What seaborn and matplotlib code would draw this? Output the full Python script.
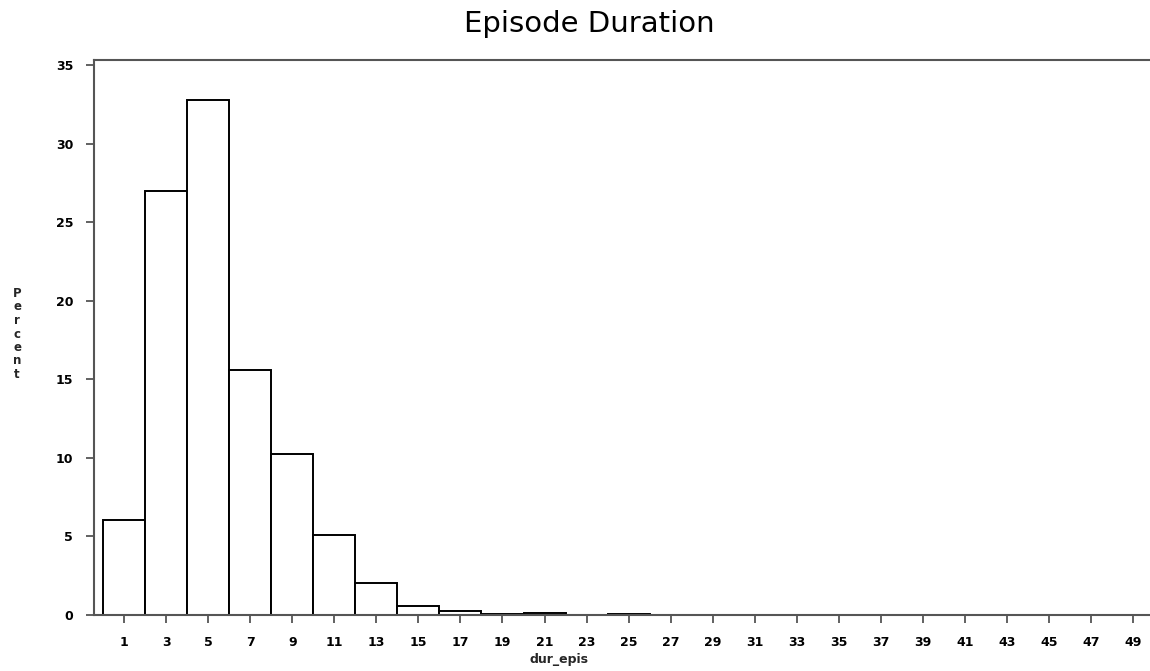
import matplotlib
matplotlib.use("Agg")
import matplotlib.pyplot as plt
import seaborn as sns
import numpy as np

# Data
midpoints = list(range(1, 50, 2))
percent = [6.02, 26.97, 32.77, 15.61, 10.26, 5.06, 2.03, 0.54, 0.26, 0.08,
           0.13, 0.0, 0.05, 0.0, 0.0, 0.0, 0.0, 0.0, 0.0, 0.0,
           0.0, 0.0, 0.0, 0.0, 0.0]
y_ticks = [0, 5, 10, 15, 20, 25, 30, 35]
title = "Episode Duration"
x_label = "dur_epis"
y_label = "Percent"

sns.set_theme(style="white")
plt.rcParams['font.family'] = ['DejaVu Sans']

fig = plt.figure(figsize=(11.5, 6.71), dpi=100)
ax = fig.add_axes([94 / 1150, (671 - 614.8) / 671, 1 - 94 / 1150, (614.8 - 60) / 671])

sns.histplot(x=midpoints, weights=percent, binwidth=2, binrange=(0, 50),
             stat="count", color="white", edgecolor="black", linewidth=1.4,
             alpha=1, ax=ax)

ax.set_xlim(-0.43, 49.8)
ax.set_ylim(0, 35.34)
ax.set_xticks(midpoints)
ax.set_xticklabels([str(m) for m in midpoints])
ax.set_yticks(y_ticks)
ax.set_yticklabels([str(t) for t in y_ticks])

for side in ["left", "top", "bottom"]:
    ax.spines[side].set_visible(True)
    ax.spines[side].set_color("#555555")
    ax.spines[side].set_linewidth(1.5)
ax.spines["right"].set_visible(False)

ax.tick_params(axis="both", which="major", direction="out", length=6,
               width=1.3, color="#555555", labelsize=9, labelcolor="black")
ax.tick_params(axis="x", pad=9, bottom=True)
ax.tick_params(axis="y", pad=9, left=True)
for lab in ax.get_xticklabels() + ax.get_yticklabels():
    lab.set_fontweight("bold")

ax.set_ylabel("")
ax.set_xlabel(x_label, fontsize=9, fontweight="bold")
ax.xaxis.set_label_coords((559 - 94) / (1150 - 94), -0.068)

fig.text(17 / 1150, 1 - 334 / 671, "\n".join(y_label), ha="center", va="center",
         fontsize=8.5, fontweight="bold", linespacing=1.05)

fig.text(589 / 1150, 1 - 24 / 671, title, ha="center", va="center",
         fontsize=21, fontweight="normal", color="black")

fig.savefig("out.png", dpi=100, facecolor="white")
